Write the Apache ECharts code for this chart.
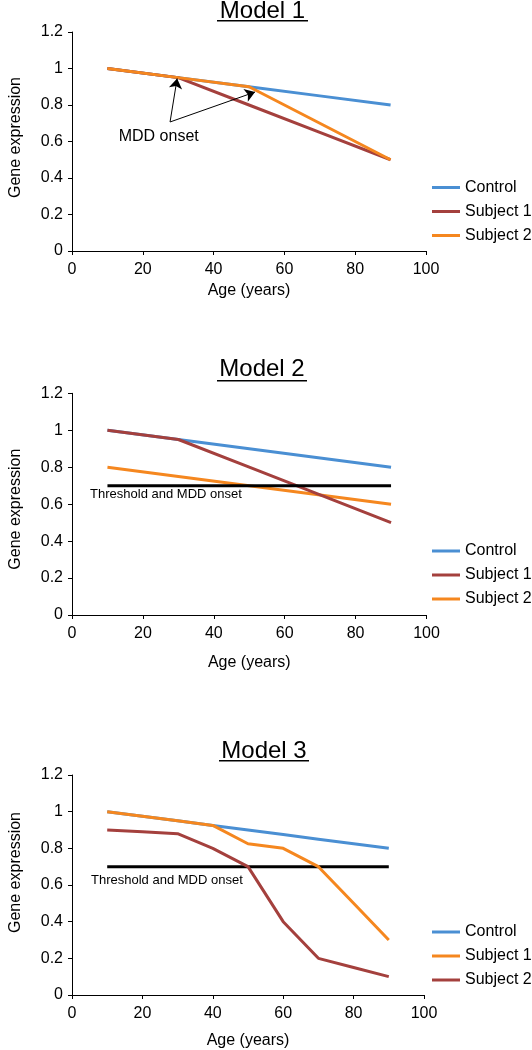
<!DOCTYPE html>
<html>
<head>
<meta charset="utf-8">
<script src="https://cdn.jsdelivr.net/npm/echarts@6/dist/echarts.min.js"></script>
<style>
html,body{margin:0;padding:0;background:#fff;}
#chart{width:532px;height:1050px;}
</style>
</head>
<body>
<div id="chart"></div>
<script>
// ---------- data ----------
const titles = ['Model 1', 'Model 2', 'Model 3'];
const xTicks = [0, 20, 40, 60, 80, 100];
const yTicks = [0, 0.2, 0.4, 0.6, 0.8, 1, 1.2];

// Model 1
const m1Ages = [10, 30, 50, 70, 90];
const m1Control = [1, 0.95, 0.9, 0.85, 0.8];
const m1Subject1 = [1, 0.95, 0.8, 0.65, 0.5];
const m1Subject2 = [1, 0.95, 0.9, 0.7, 0.5];
const m1ArrowStart = [27.7, 0.707];
const m1ArrowEnds = [[29.7, 0.945], [51.7, 0.871]];
const m1LabelPos = [24.5, 0.628];
const m1LabelText = 'MDD onset';

// Model 2
const m2Ages = [10, 30, 50, 70, 90];
const m2Control = [1, 0.95, 0.9, 0.85, 0.8];
const m2Subject1 = [1, 0.95, 0.8, 0.65, 0.5];
const m2Subject2 = [0.8, 0.75, 0.7, 0.65, 0.6];
const m2ThresholdAges = [10, 90];
const m2Threshold = [0.7, 0.7];
const m2LabelPos = [5.1, 0.65];

// Model 3
const m3Ages = [10, 20, 30, 40, 50, 60, 70, 80, 90];
const m3Control = [1, 0.975, 0.95, 0.925, 0.9, 0.875, 0.85, 0.825, 0.8];
const m3Subject1 = [1, 0.975, 0.95, 0.925, 0.825, 0.8, 0.7, 0.5, 0.3];
const m3Subject2 = [0.9, 0.89, 0.88, 0.8, 0.7, 0.4, 0.2, 0.15, 0.1];
const m3ThresholdAges = [10, 90];
const m3Threshold = [0.7, 0.7];
const m3LabelPos = [5.4, 0.624];

const thresholdText = 'Threshold and MDD onset';
const legendNames = ['Control', 'Subject 1', 'Subject 2'];

// ---------- styles ----------
const FONT = '"Liberation Sans", Arial, sans-serif';
const BLUE = '#4A8FD3', RED = '#A4403D', ORANGE = '#F5871F', BLACK = '#000';

const layout = [
  {left: 65, top: 32, width: 361, height: 219, titleX: 262.5, titleTop: -1, ul: [217, 308, 20.7], nameGap: 32, yPad: [0,0,0,8], legendTop: 179.5},
  {left: 65.5, top: 393.3, width: 361, height: 221.7, titleX: 262, titleTop: 357, ul: [217, 307, 380.7], nameGap: 40, yPad: [0,10,0,0], legendTop: 543},
  {left: 64.5, top: 775, width: 359.5, height: 220.3, titleX: 264, titleTop: 739, ul: [219, 309, 760.7], nameGap: 38, yPad: [0,0,0,25], legendTop: 924}
];

function zip(xs, ys) { return xs.map((x, i) => [x, ys[i]]); }

const grids = [], xAxes = [], yAxes = [], titleArr = [], legends = [], graphics = [];
layout.forEach((L, i) => {
  grids.push({left: L.left, top: L.top, width: L.width, height: L.height, containLabel: false});
  xAxes.push({
    type: 'value', gridIndex: i, min: xTicks[0], max: xTicks[xTicks.length - 1], interval: xTicks[1] - xTicks[0],
    name: 'Age (years)', nameLocation: 'middle', nameGap: L.nameGap,
    nameTextStyle: {fontFamily: FONT, fontSize: 16, color: BLACK},
    axisLine: {show: true, lineStyle: {color: BLACK, width: 1}},
    axisTick: {show: true, inside: false, length: 4, lineStyle: {color: BLACK}},
    axisLabel: {fontFamily: FONT, fontSize: 16, color: BLACK, margin: 11},
    splitLine: {show: false}
  });
  yAxes.push({
    type: 'value', gridIndex: i, min: yTicks[0], max: yTicks[yTicks.length - 1], interval: yTicks[1] - yTicks[0],
    name: 'Gene expression', nameLocation: 'middle', nameGap: 48,
    nameTextStyle: {fontFamily: FONT, fontSize: 16, color: BLACK, padding: L.yPad},
    axisLine: {show: true, lineStyle: {color: BLACK, width: 1}},
    axisTick: {show: true, inside: false, length: 4, lineStyle: {color: BLACK}},
    axisLabel: {fontFamily: FONT, fontSize: 16, color: BLACK, margin: 9},
    splitLine: {show: false}
  });
  titleArr.push({
    text: titles[i], left: L.titleX, top: L.titleTop, textAlign: 'center', padding: 0,
    textStyle: {fontFamily: FONT, fontSize: 24, fontWeight: 'normal', color: BLACK}
  });
  graphics.push({type: 'line', shape: {x1: L.ul[0], y1: L.ul[2], x2: L.ul[1], y2: L.ul[2]}, style: {stroke: BLACK, lineWidth: 1.5}, silent: true});
});

const legendColors = [
  [BLUE, RED, ORANGE],
  [BLUE, RED, ORANGE],
  [BLUE, ORANGE, RED]
];
layout.forEach((L, i) => {
  legends.push({
    orient: 'vertical', left: 432, top: L.legendTop, itemWidth: 28, itemHeight: 3, itemGap: 8,
    icon: 'rect', selectedMode: false, padding: 0,
    textStyle: {fontFamily: FONT, fontSize: 16, color: BLACK, lineHeight: 16},
    data: legendNames.map((n, k) => ({name: n, itemStyle: {color: legendColors[i][k]}}))
  });
});

function lineSeries(name, gi, data, color, extra) {
  return Object.assign({
    type: 'line', name: name, xAxisIndex: gi, yAxisIndex: gi, data: data,
    showSymbol: false, symbol: 'none', lineStyle: {color: color, width: 3}, itemStyle: {color: color},
    animation: false, silent: true
  }, extra || {});
}

const series = [
  // Model 1
  lineSeries('Control', 0, zip(m1Ages, m1Control), BLUE),
  lineSeries('Subject 1', 0, zip(m1Ages, m1Subject1), RED),
  lineSeries('Subject 2', 0, zip(m1Ages, m1Subject2), ORANGE, {
    markLine: {
      silent: true, animation: false, symbol: ['none', 'arrow'], symbolSize: 10,
      lineStyle: {color: BLACK, width: 1, type: 'solid'}, label: {show: false},
      data: m1ArrowEnds.map(e => [{coord: m1ArrowStart}, {coord: e}])
    },
    markPoint: {
      silent: true, animation: false,
      data: [{coord: m1LabelPos, symbol: 'circle', symbolSize: 0,
        label: {show: true, position: 'inside', formatter: m1LabelText, fontFamily: FONT, fontSize: 16, color: BLACK}}]
    }
  }),
  // Model 2
  lineSeries('Control', 1, zip(m2Ages, m2Control), BLUE),
  lineSeries('Subject 2', 1, zip(m2Ages, m2Subject2), ORANGE),
  lineSeries('Subject 1', 1, zip(m2Ages, m2Subject1), RED),
  lineSeries('Threshold', 1, zip(m2ThresholdAges, m2Threshold), BLACK, {
    markPoint: {
      silent: true, animation: false,
      data: [{coord: m2LabelPos, symbol: 'circle', symbolSize: 0,
        label: {show: true, position: 'right', distance: 0, formatter: thresholdText, fontFamily: FONT, fontSize: 13, color: BLACK}}]
    }
  }),
  // Model 3
  lineSeries('Threshold', 2, zip(m3ThresholdAges, m3Threshold), BLACK, {
    markPoint: {
      silent: true, animation: false,
      data: [{coord: m3LabelPos, symbol: 'circle', symbolSize: 0,
        label: {show: true, position: 'right', distance: 0, formatter: thresholdText, fontFamily: FONT, fontSize: 13, color: BLACK}}]
    }
  }),
  lineSeries('Control', 2, zip(m3Ages, m3Control), BLUE),
  lineSeries('Subject 2', 2, zip(m3Ages, m3Subject2), RED),
  lineSeries('Subject 1', 2, zip(m3Ages, m3Subject1), ORANGE)
];

const chart = echarts.init(document.getElementById('chart'), null, {renderer: 'canvas'});
chart.setOption({
  backgroundColor: '#fff',
  animation: false,
  title: titleArr,
  legend: legends,
  grid: grids,
  xAxis: xAxes,
  yAxis: yAxes,
  series: series,
  graphic: graphics
});
</script>
</body>
</html>
